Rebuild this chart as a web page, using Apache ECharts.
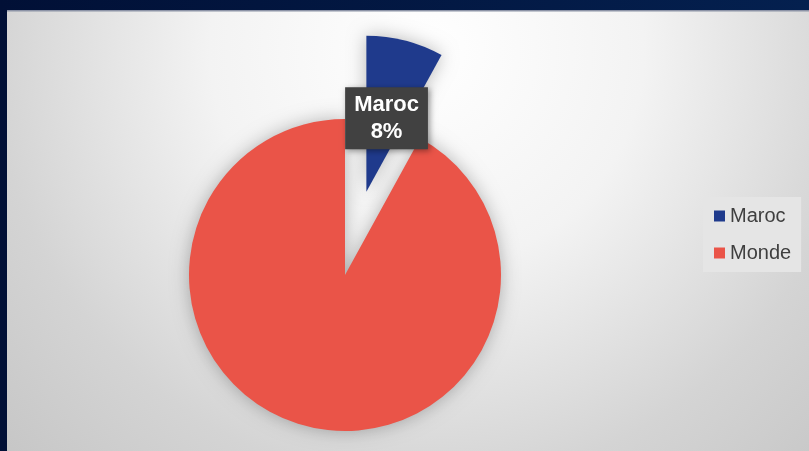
<!DOCTYPE html>
<html>
<head>
<meta charset="utf-8">
<script src="https://cdn.jsdelivr.net/npm/echarts@6/dist/echarts.min.js"></script>
<style>
html,body{margin:0;padding:0;background:#021338;}
#chart{width:809px;height:451px;}
</style>
</head>
<body>
<div id="chart"></div>
<script>
const categories = ['Maroc', 'Monde'];
const values = [8, 92];
const colors = ['#1F3A8C', '#EA5448'];

const chart = echarts.init(document.getElementById('chart'));
const option = {
  backgroundColor: new echarts.graphic.LinearGradient(0, 0, 1, 0, [
    {offset: 0, color: '#011036'}, {offset: 1, color: '#04204f'}
  ]),
  animation: false,
  graphic: [
    {
      type: 'rect', left: 7, top: 10, z: -10,
      shape: {width: 802, height: 441},
      style: {
        fill: new echarts.graphic.RadialGradient(420, 40, 620, [
          {offset: 0, color: '#ffffff'},
          {offset: 0.35, color: '#f3f3f3'},
          {offset: 0.7, color: '#d4d4d4'},
          {offset: 1, color: '#c3c3c3'}
        ], true)
      }
    },
    {
      type: 'rect', left: 7, top: 10, z: -9,
      shape: {width: 802, height: 1.5},
      style: {fill: '#8c93a6'}
    }
  ],
  legend: {
    orient: 'vertical',
    left: 703, top: 197,
    padding: [9, 10, 9, 11],
    backgroundColor: '#e5e5e5',
    itemWidth: 11, itemHeight: 11, itemGap: 17,
    icon: 'rect',
    textStyle: {fontFamily: 'Liberation Sans, Arial', fontSize: 20, lineHeight: 20, color: '#3f3f3f'},
    data: categories
  },
  series: [{
    type: 'pie',
    center: [345, 275],
    radius: 156,
    startAngle: 90,
    clockwise: true,
    selectedMode: 'single',
    selectedOffset: 86,
    avoidLabelOverlap: false,
    itemStyle: {shadowBlur: 18, shadowColor: 'rgba(0,0,0,0.28)'},
    labelLine: {show: false},
    labelLayout: {dy: 5},
    emphasis: {disabled: true},
    data: categories.map((c, i) => ({
      name: c,
      value: values[i],
      selected: i === 0,
      itemStyle: {color: colors[i]},
      label: i === 0 ? {
        show: true,
        position: 'inside',
        formatter: '{b}\n{d}%',
        fontFamily: 'Liberation Sans, Arial',
        fontWeight: 'bold',
        fontSize: 22,
        lineHeight: 27,
        color: '#ffffff',
        backgroundColor: '#414141',
        padding: [4, 9, 4, 9],
        shadowBlur: 6,
        shadowColor: 'rgba(0,0,0,0.4)',
        shadowOffsetX: 2,
        shadowOffsetY: 2
      } : {show: false}
    }))
  }]
};
chart.setOption(option);
</script>
</body>
</html>
